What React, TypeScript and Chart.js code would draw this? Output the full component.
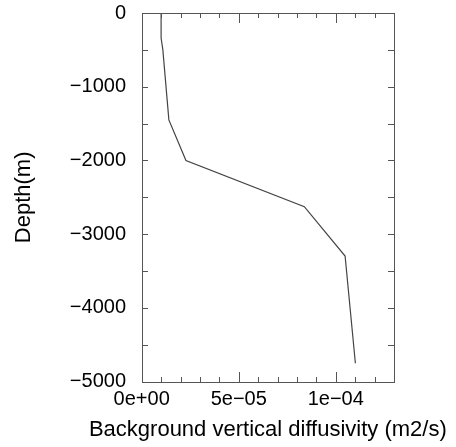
import React, { useEffect, useRef } from "react";
import { Chart, registerables } from "chart.js";

Chart.register(...registerables);

// Data
const diffusivity = [1.0e-5, 1.0e-5, 1.09e-5, 1.4e-5, 2.28e-5, 8.38e-5, 1.048e-4, 1.101e-4];
const depth = [0, -340, -500, -1450, -2000, -2627, -3296, -4750];

const xTickValues = [0, 5e-5, 1e-4];
const xTickLabels = ["0e+00", "5e\u221205", "1e\u221204"];
const yTickValues = [0, -1000, -2000, -3000, -4000, -5000];
const yTickLabels = ["0", "\u22121000", "\u22122000", "\u22123000", "\u22124000", "\u22125000"];
const xMinorStep = 1e-5;
const xMajorStep = 5e-5;
const yMinorStep = 500;

const xTitle = "Background vertical diffusivity (m2/s)";
const yTitle = "Depth(m)";

const FONT = "'Liberation Sans', Arial, Helvetica, sans-serif";

const innerTicks = {
  id: "innerTicks",
  afterDraw(chart: any) {
    const { ctx, chartArea, scales } = chart;
    const { left, right, top, bottom } = chartArea;
    const xs = scales.x;
    const ys = scales.y;
    ctx.save();
    ctx.strokeStyle = "#555";
    ctx.lineWidth = 1;
    ctx.strokeRect(Math.round(left) + 0.5, Math.round(top) + 0.5, Math.round(right - left), Math.round(bottom - top));
    ctx.beginPath();
    const n = Math.round((xs.max - xs.min) / xMinorStep);
    for (let i = 1; i < n + 1; i++) {
      const v = xs.min + i * xMinorStep;
      if (v >= xs.max - 1e-12) break;
      const major = Math.abs(v / xMajorStep - Math.round(v / xMajorStep)) < 1e-6;
      const len = major ? 10 : 5;
      const px = Math.round(xs.getPixelForValue(v)) + 0.5;
      ctx.moveTo(px, Math.round(bottom));
      ctx.lineTo(px, Math.round(bottom) - len);
      ctx.moveTo(px, Math.round(top));
      ctx.lineTo(px, Math.round(top) + len);
    }
    for (let v = ys.min + yMinorStep; v < ys.max; v += yMinorStep) {
      const py = Math.round(ys.getPixelForValue(v)) + 0.5;
      ctx.moveTo(Math.round(left), py);
      ctx.lineTo(Math.round(left) + 6, py);
      ctx.moveTo(Math.round(right), py);
      ctx.lineTo(Math.round(right) - 6, py);
    }
    ctx.stroke();
    // x-axis title (drawn here so it may be wider than the plot area)
    ctx.fillStyle = "#000";
    ctx.font = `22px ${FONT}`;
    ctx.textAlign = "center";
    ctx.textBaseline = "middle";
    ctx.fillText(xTitle, (left + right) / 2, 430);
    ctx.restore();
  },
};

export default function App() {
  const ref = useRef<HTMLCanvasElement>(null);
  useEffect(() => {
    const canvas = ref.current!;
    const chart = new Chart(canvas, {
      type: "line",
      data: {
        datasets: [
          {
            data: diffusivity.map((x, i) => ({ x, y: depth[i] })),
            borderColor: "#444",
            borderWidth: 1.2,
            pointRadius: 0,
            fill: false,
            tension: 0,
          },
        ],
      },
      options: {
        animation: false,
        responsive: false,
        devicePixelRatio: 1,
        layout: { padding: { left: 0, right: 62, top: 13, bottom: 0 } },
        plugins: { legend: { display: false }, tooltip: { enabled: false } },
        scales: {
          x: {
            type: "linear",
            min: 0,
            max: 1.3e-4,
            grid: { display: false, drawTicks: false },
            border: { display: false },
            afterBuildTicks: (s: any) => {
              s.ticks = xTickValues.map((v) => ({ value: v }));
            },
            afterFit: (s: any) => {
              s.height = 65.3;
              s.paddingLeft = 0;
              s.paddingRight = 0;
            },
            ticks: {
              padding: 6,
              color: "#000",
              maxRotation: 0,
              autoSkip: false,
              font: { family: FONT, size: 20 },
              callback: (v: any) => {
                const i = xTickValues.findIndex((t) => Math.abs(t - v) < 1e-9);
                return i >= 0 ? xTickLabels[i] : "";
              },
            },
            title: { display: false },
          },
          y: {
            type: "linear",
            min: -5000,
            max: 0,
            grid: { display: false, drawTicks: false },
            border: { display: false },
            afterBuildTicks: (s: any) => {
              s.ticks = yTickValues.map((v) => ({ value: v }));
            },
            afterFit: (s: any) => {
              s.width = 141.7;
              s.paddingTop = 0;
              s.paddingBottom = 0;
            },
            ticks: {
              padding: 15.7,
              color: "#000",
              autoSkip: false,
              font: { family: FONT, size: 20 },
              callback: (v: any) => {
                const i = yTickValues.findIndex((t) => Math.abs(t - v) < 1e-6);
                return i >= 0 ? yTickLabels[i] : "";
              },
            },
            title: {
              display: true,
              text: yTitle,
              color: "#000",
              font: { family: FONT, size: 22 },
              padding: { top: 11, bottom: 0 },
            },
          },
        },
      },
      plugins: [innerTicks],
    });
    return () => chart.destroy();
  }, []);
  return (
    <div style={{ position: "fixed", left: 0, top: 0, width: 456, height: 447, background: "#fff" }}>
      <canvas ref={ref} width={456} height={447} style={{ width: 456, height: 447, display: "block" }} />
    </div>
  );
}
